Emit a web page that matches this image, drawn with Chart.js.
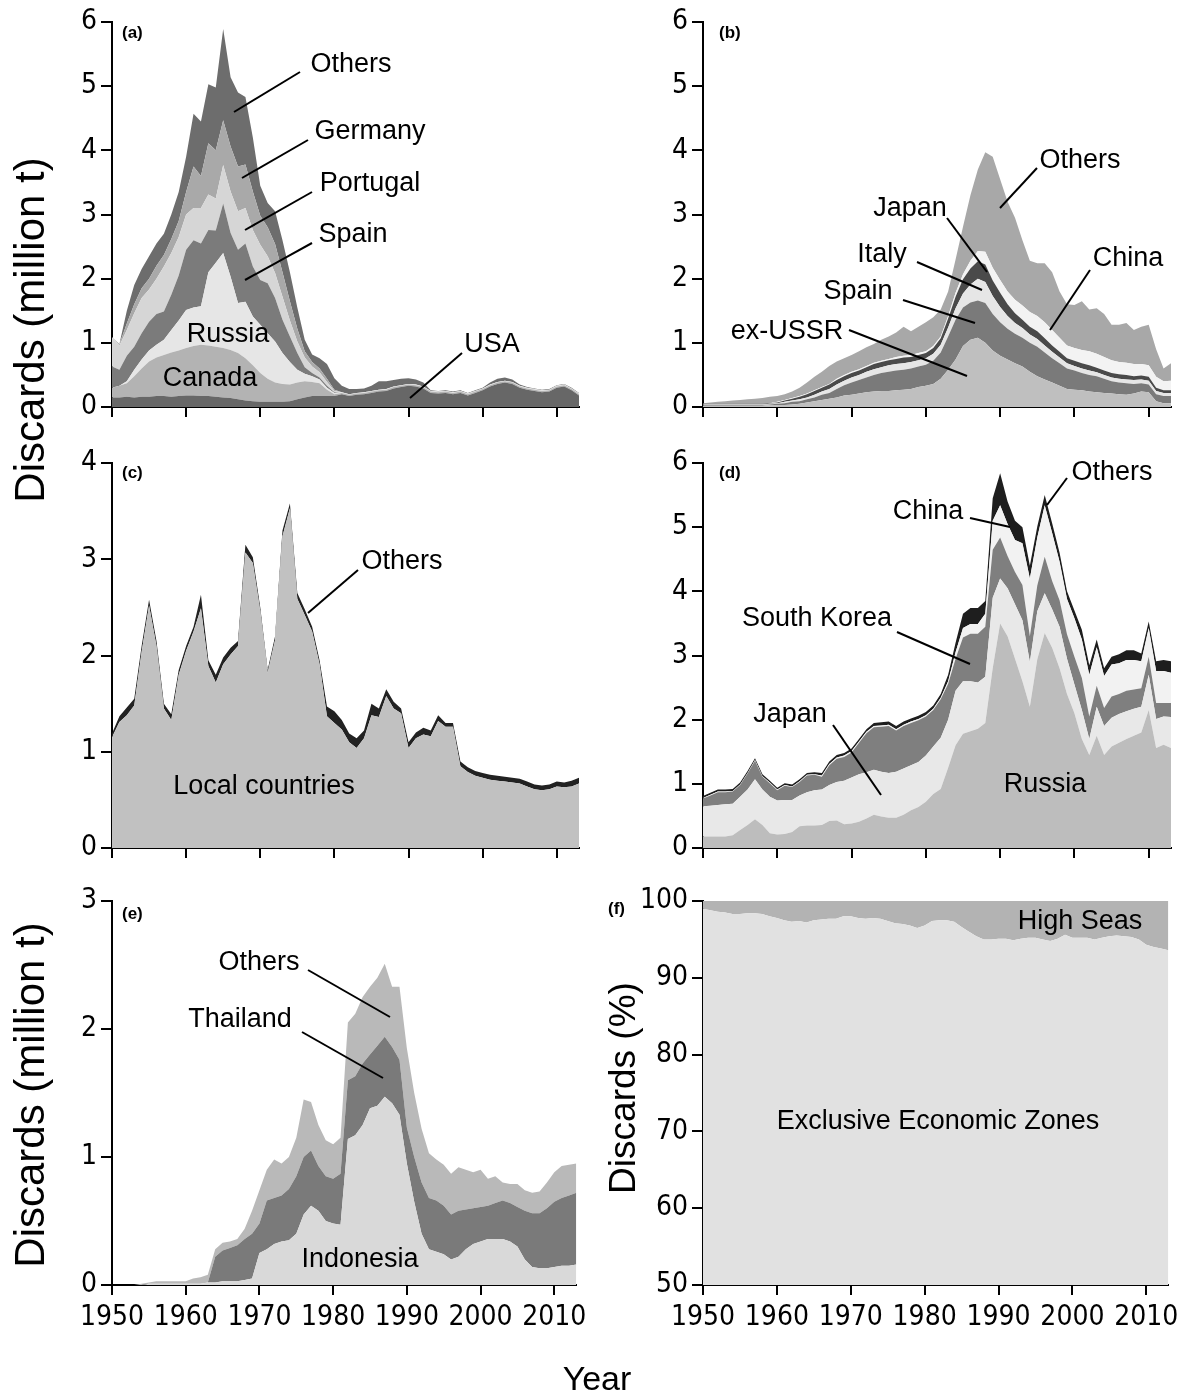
<!DOCTYPE html>
<html>
<head>
<meta charset="utf-8">
<script src="https://cdn.jsdelivr.net/npm/chart.js@4.4.1/dist/chart.umd.min.js"></script>
<style>
body { margin: 0; background: #fff; }
#page { position: relative; width: 1194px; height: 1393px; overflow: hidden; font-family: "Liberation Sans", Arial, sans-serif; color: #000; }
canvas.panel { position: absolute; }
.lbl { position: absolute; font-size: 27px; white-space: nowrap; transform: translate(-50%, -50%); line-height: 1; }
.tag { position: absolute; font-size: 17px; font-weight: bold; white-space: nowrap; transform: translateY(-50%); line-height: 1; }
.ytitle { position: absolute; font-size: 42px; white-space: nowrap; line-height: 1; transform: translate(-50%, -50%) rotate(-90deg); }
.ytitle.pct { font-size: 37px; }
.xtitle { position: absolute; font-size: 34px; white-space: nowrap; line-height: 1; transform: translate(-50%, -50%); }
#lines { position: absolute; left: 0; top: 0; }
</style>
</head>
<body>
<div id="page"></div>
<script>
var years = [1950,1951,1952,1953,1954,1955,1956,1957,1958,1959,
  1960,1961,1962,1963,1964,1965,1966,1967,1968,1969,
  1970,1971,1972,1973,1974,1975,1976,1977,1978,1979,
  1980,1981,1982,1983,1984,1985,1986,1987,1988,1989,
  1990,1991,1992,1993,1994,1995,1996,1997,1998,1999,
  2000,2001,2002,2003,2004,2005,2006,2007,2008,2009,
  2010,2011,2012,2013];

// (a) million t
var aUSA = [0.15,0.15,0.16,0.15,0.16,0.16,0.17,0.17,0.16,0.17, 0.18,0.18,0.17,0.17,0.16,0.15,0.14,0.12,0.10,0.09,
  0.08,0.08,0.08,0.08,0.09,0.12,0.15,0.17,0.17,0.17, 0.17,0.20,0.17,0.19,0.20,0.22,0.24,0.25,0.29,0.31,
  0.33,0.32,0.29,0.22,0.21,0.22,0.20,0.22,0.18,0.22, 0.26,0.32,0.36,0.38,0.36,0.30,0.27,0.25,0.23,0.24, 0.30,0.32,0.26,0.18];
var aCanada = [0.15,0.18,0.21,0.33,0.44,0.55,0.60,0.64,0.69,0.71, 0.74,0.77,0.80,0.79,0.78,0.77,0.75,0.72,0.66,0.56,
  0.45,0.36,0.30,0.28,0.26,0.26,0.25,0.22,0.20,0.10, 0.03,0.02,0.02,0.02,0.02,0.02,0.02,0.02,0.02,0.02,
  0.02,0.02,0.02,0.02,0.02,0.02,0.02,0.02,0.02,0.02, 0.02,0.02,0.02,0.02,0.02,0.02,0.02,0.02,0.02,0.02, 0.02,0.02,0.02,0.02];
var aRussia = [0.00,0.00,0.03,0.10,0.14,0.17,0.20,0.24,0.35,0.47, 0.59,0.60,0.60,1.14,1.31,1.48,1.14,0.78,0.88,0.76,
  0.75,0.71,0.64,0.48,0.35,0.20,0.12,0.09,0.06,0.03, 0.02,0.01,0.01,0.01,0.01,0.01,0.01,0.01,0.01,0.01,
  0.01,0.01,0.01,0.01,0.01,0.01,0.01,0.01,0.01,0.01, 0.01,0.01,0.01,0.01,0.01,0.01,0.01,0.01,0.01,0.01, 0.01,0.01,0.01,0.01];
var aSpain = [0.33,0.25,0.40,0.36,0.41,0.45,0.48,0.44,0.55,0.70, 0.94,1.05,0.98,0.66,0.50,0.77,0.68,0.83,0.91,0.78,
  0.70,0.78,0.68,0.52,0.40,0.26,0.10,0.05,0.03,0.03, 0.01,0,0,0,0,0,0,0,0,0,
  0,0,0,0,0,0,0,0,0,0, 0,0,0,0,0,0,0,0,0,0, 0,0,0,0];
var aPortugal = [0.46,0.38,0.40,0.52,0.55,0.50,0.55,0.70,0.65,0.60, 0.55,0.50,0.55,0.55,0.50,0.60,0.65,0.60,0.55,0.57,
  0.55,0.42,0.39,0.36,0.25,0.18,0.15,0.10,0.08,0.06, 0.02,0,0,0,0,0,0,0,0,0,
  0,0,0,0,0,0,0,0,0,0, 0,0,0,0,0,0,0,0,0,0, 0,0,0,0];
var aGermany = [0.00,0.02,0.10,0.14,0.15,0.17,0.20,0.18,0.22,0.25, 0.35,0.65,0.50,0.80,0.75,0.70,0.70,0.70,0.68,0.60,
  0.45,0.45,0.45,0.38,0.30,0.20,0.10,0.07,0.06,0.05, 0.02,0,0,0,0,0,0,0,0,0,
  0,0,0,0,0,0,0,0,0,0, 0,0,0,0,0,0,0,0,0,0, 0,0,0,0];
var aOthers = [0.00,0.00,0.20,0.30,0.30,0.35,0.35,0.33,0.38,0.45, 0.55,0.82,0.85,0.92,0.98,1.42,1.08,1.15,1.05,0.84,
  0.47,0.38,0.51,0.50,0.45,0.33,0.18,0.12,0.16,0.23, 0.18,0.10,0.08,0.06,0.06,0.08,0.13,0.12,0.10,0.10,
  0.09,0.08,0.06,0.01,0.01,0.01,0.01,0.01,0.01,0.01, 0.01,0.03,0.05,0.05,0.04,0.02,0.01,0.01,0.01,0.01, 0.01,0.01,0.01,0.01];

// (b) million t
var bExUSSR = [0.02,0.02,0.02,0.02,0.02,0.02,0.02,0.02,0.02,0.03, 0.03,0.03,0.04,0.05,0.07,0.09,0.11,0.13,0.15,0.18,
  0.19,0.21,0.23,0.24,0.25,0.25,0.26,0.27,0.28,0.31, 0.33,0.36,0.44,0.58,0.74,0.95,1.05,1.08,1.00,0.88,
  0.80,0.74,0.68,0.63,0.55,0.48,0.43,0.38,0.33,0.28, 0.27,0.26,0.24,0.23,0.22,0.21,0.20,0.19,0.21,0.24, 0.23,0.09,0.06,0.06];
var bSpain = [0.01,0.01,0.01,0.01,0.01,0.01,0.01,0.01,0.01,0.01, 0.02,0.03,0.04,0.04,0.05,0.06,0.08,0.09,0.13,0.16,
  0.19,0.21,0.23,0.26,0.28,0.30,0.31,0.31,0.32,0.32, 0.33,0.36,0.41,0.52,0.62,0.60,0.58,0.58,0.62,0.57,
  0.52,0.48,0.46,0.45,0.45,0.46,0.42,0.38,0.35,0.32, 0.30,0.27,0.26,0.25,0.22,0.19,0.18,0.18,0.15,0.13, 0.12,0.11,0.11,0.11];
var bItaly = [0.01,0.01,0.01,0.01,0.01,0.01,0.01,0.01,0.01,0.01, 0.01,0.02,0.02,0.03,0.03,0.04,0.05,0.06,0.07,0.07,
  0.08,0.08,0.09,0.09,0.09,0.10,0.10,0.10,0.10,0.10, 0.10,0.11,0.12,0.14,0.18,0.22,0.28,0.34,0.33,0.28,
  0.24,0.20,0.17,0.15,0.13,0.12,0.11,0.10,0.09,0.08, 0.07,0.07,0.07,0.06,0.06,0.06,0.06,0.06,0.06,0.06, 0.06,0.05,0.05,0.05];
var bJapan = [0.01,0.01,0.01,0.01,0.01,0.01,0.01,0.01,0.01,0.01, 0.01,0.02,0.03,0.04,0.05,0.06,0.06,0.07,0.07,0.07,
  0.07,0.07,0.07,0.08,0.08,0.08,0.08,0.09,0.08,0.08, 0.08,0.09,0.10,0.14,0.18,0.22,0.25,0.27,0.27,0.24,
  0.22,0.18,0.15,0.13,0.12,0.12,0.11,0.10,0.09,0.08, 0.08,0.08,0.08,0.07,0.07,0.07,0.07,0.07,0.06,0.06, 0.06,0.05,0.04,0.04];
var bChina = [0,0,0,0,0,0,0,0,0,0, 0.01,0.01,0.01,0.01,0.01,0.01,0.01,0.01,0.02,0.02,
  0.02,0.02,0.02,0.02,0.02,0.02,0.03,0.03,0.03,0.03, 0.03,0.03,0.03,0.04,0.06,0.08,0.12,0.16,0.20,0.20,
  0.20,0.20,0.21,0.22,0.23,0.24,0.25,0.24,0.22,0.20, 0.20,0.21,0.22,0.22,0.21,0.20,0.19,0.19,0.19,0.18, 0.18,0.17,0.14,0.15];
var bOthers = [0.01,0.02,0.03,0.04,0.05,0.06,0.07,0.08,0.09,0.10, 0.09,0.09,0.10,0.13,0.17,0.21,0.24,0.28,0.27,0.26,
  0.26,0.28,0.29,0.29,0.33,0.35,0.38,0.45,0.37,0.41, 0.45,0.45,0.42,0.38,0.52,0.74,1.02,1.27,1.55,1.73,
  1.57,1.40,1.28,1.02,0.80,0.82,0.92,0.90,0.72,0.64, 0.67,0.76,0.65,0.71,0.67,0.55,0.58,0.62,0.53,0.58, 0.63,0.43,0.20,0.27];

// (c) million t
var cLocal = [1.15,1.31,1.38,1.48,2.04,2.52,2.10,1.45,1.33,1.80, 2.05,2.25,2.49,1.89,1.72,1.91,2.01,2.10,3.07,2.96,
  2.46,1.82,2.16,3.24,3.53,2.59,2.42,2.25,1.91,1.37, 1.30,1.23,1.10,1.04,1.14,1.38,1.36,1.58,1.45,1.40,
  1.04,1.14,1.18,1.16,1.32,1.26,1.26,0.85,0.79,0.75, 0.73,0.71,0.70,0.69,0.68,0.67,0.64,0.61,0.60,0.61, 0.64,0.63,0.64,0.67];
var cOthers = [0.04,0.06,0.08,0.07,0.06,0.06,0.05,0.05,0.06,0.05, 0.05,0.05,0.14,0.06,0.08,0.07,0.07,0.05,0.08,0.06,
  0.04,0.03,0.04,0.06,0.05,0.06,0.06,0.05,0.04,0.10, 0.12,0.10,0.09,0.10,0.08,0.12,0.09,0.07,0.07,0.05,
  0.06,0.06,0.07,0.06,0.06,0.04,0.04,0.05,0.05,0.05, 0.05,0.05,0.05,0.05,0.05,0.05,0.05,0.05,0.05,0.05, 0.05,0.05,0.06,0.06];

// (d) million t
var dRussia = [0.18,0.18,0.18,0.18,0.20,0.28,0.36,0.45,0.36,0.23, 0.21,0.22,0.25,0.34,0.35,0.35,0.36,0.42,0.43,0.37,
  0.38,0.41,0.46,0.52,0.49,0.47,0.47,0.52,0.59,0.64, 0.72,0.84,0.92,1.25,1.60,1.78,1.82,1.86,1.95,2.80,
  3.50,3.30,2.95,2.60,2.20,2.94,3.35,3.12,2.80,2.40, 2.10,1.70,1.45,1.75,1.45,1.58,1.64,1.70,1.75,1.80, 2.15,1.56,1.61,1.56];
var dJapan = [0.47,0.48,0.49,0.50,0.49,0.52,0.55,0.62,0.55,0.57, 0.53,0.53,0.50,0.48,0.52,0.55,0.55,0.56,0.60,0.68,
  0.72,0.74,0.72,0.70,0.70,0.70,0.72,0.72,0.70,0.70, 0.72,0.74,0.80,0.75,0.85,0.82,0.78,0.72,0.72,1.10,
  0.70,0.75,0.85,0.95,0.70,0.75,0.62,0.60,0.65,0.55, 0.45,0.45,0.25,0.45,0.45,0.45,0.45,0.43,0.42,0.40, 0.55,0.45,0.44,0.48];
var dSouthKorea = [0.12,0.16,0.20,0.19,0.19,0.18,0.25,0.29,0.20,0.21, 0.16,0.22,0.20,0.21,0.26,0.24,0.20,0.31,0.36,0.37,
  0.39,0.49,0.61,0.66,0.70,0.73,0.64,0.66,0.66,0.65, 0.61,0.57,0.60,0.56,0.50,0.68,0.74,0.76,0.78,0.75,
  0.64,0.50,0.50,0.55,0.40,0.40,0.57,0.44,0.41,0.38, 0.43,0.50,0.35,0.33,0.28,0.33,0.31,0.32,0.30,0.29, 0.28,0.25,0.21,0.22];
var dChina = [0.01,0.01,0.01,0.01,0.01,0.01,0.01,0.01,0.01,0.01, 0.01,0.01,0.01,0.01,0.01,0.01,0.02,0.02,0.02,0.02,
  0.02,0.02,0.02,0.02,0.02,0.02,0.02,0.02,0.02,0.02, 0.02,0.02,0.02,0.04,0.10,0.15,0.15,0.15,0.20,0.45,
  0.50,0.50,0.50,0.65,0.90,0.75,0.80,0.75,0.60,0.55, 0.60,0.60,0.65,0.60,0.50,0.50,0.48,0.48,0.46,0.42, 0.45,0.50,0.50,0.47];
var dOthers = [0.03,0.03,0.03,0.03,0.03,0.03,0.03,0.03,0.03,0.03, 0.03,0.03,0.03,0.03,0.03,0.03,0.04,0.04,0.04,0.04,
  0.04,0.04,0.04,0.05,0.05,0.05,0.05,0.05,0.05,0.05, 0.05,0.05,0.06,0.10,0.15,0.22,0.25,0.25,0.20,0.35,
  0.50,0.35,0.30,0.25,0.20,0.17,0.16,0.15,0.14,0.12, 0.12,0.15,0.15,0.12,0.12,0.12,0.14,0.15,0.15,0.12, 0.10,0.15,0.17,0.18];

// (e) million t
var eIndonesia = [0,0,0,0,0,0.01,0.01,0.01,0.01,0.01, 0.01,0.01,0.01,0.02,0.02,0.03,0.03,0.03,0.04,0.05,
  0.25,0.28,0.32,0.34,0.35,0.40,0.55,0.62,0.58,0.50, 0.48,0.47,1.14,1.17,1.25,1.38,1.40,1.47,1.42,1.33,
  0.95,0.65,0.40,0.28,0.26,0.24,0.20,0.22,0.28,0.32, 0.34,0.36,0.36,0.36,0.34,0.30,0.20,0.14,0.13,0.13, 0.14,0.15,0.15,0.16];
var eThailand = [0,0,0,0,0,0,0,0,0,0, 0,0,0,0,0.20,0.24,0.26,0.28,0.32,0.35,
  0.23,0.38,0.36,0.36,0.40,0.45,0.45,0.43,0.35,0.35, 0.35,0.40,0.46,0.46,0.48,0.42,0.47,0.47,0.44,0.43,
  0.28,0.35,0.40,0.40,0.40,0.38,0.35,0.36,0.31,0.28, 0.27,0.26,0.28,0.30,0.30,0.31,0.38,0.42,0.43,0.47, 0.51,0.53,0.55,0.56];
var eOthers = [0,0,0,0,0.01,0.01,0.02,0.02,0.02,0.02, 0.02,0.04,0.05,0.06,0.06,0.06,0.05,0.05,0.08,0.18,
  0.26,0.24,0.30,0.25,0.25,0.30,0.45,0.38,0.32,0.28, 0.27,0.28,0.45,0.49,0.52,0.53,0.53,0.57,0.47,0.57,
  0.62,0.50,0.42,0.35,0.32,0.32,0.32,0.34,0.31,0.28, 0.29,0.21,0.21,0.14,0.15,0.18,0.16,0.16,0.17,0.20, 0.23,0.25,0.24,0.23];

// (f) percent
var fEEZ = [99.0,98.8,98.6,98.5,98.3,98.3,98.4,98.4,98.3,98.0, 97.8,97.5,97.3,97.4,97.2,97.5,97.6,97.7,97.7,98.0,
  98.0,97.8,97.7,97.8,97.7,97.4,97.1,97.0,96.8,96.5, 96.8,97.4,97.5,97.5,97.3,96.6,96.0,95.4,95.0,95.0,
  95.1,95.1,94.9,95.1,95.2,95.2,95.0,94.8,95.1,95.6, 95.2,95.2,95.2,95.0,95.2,95.4,95.5,95.4,95.3,95.0, 94.3,94.0,93.8,93.6];
var fHighSeas = [1.0,1.2,1.4,1.5,1.7,1.7,1.6,1.6,1.7,2.0, 2.2,2.5,2.7,2.6,2.8,2.5,2.4,2.3,2.3,2.0,
  2.0,2.2,2.3,2.2,2.3,2.6,2.9,3.0,3.2,3.5, 3.2,2.6,2.5,2.5,2.7,3.4,4.0,4.6,5.0,5.0,
  4.9,4.9,5.1,4.9,4.8,4.8,5.0,5.2,4.9,4.4, 4.8,4.8,4.8,5.0,4.8,4.6,4.5,4.6,4.7,5.0, 5.7,6.0,6.2,6.4];

var xTicks = [1950,1960,1970,1980,1990,2000,2010];
var tickFont = { family: "'DejaVu Sans Condensed', 'Liberation Sans', sans-serif", size: 28 };

var page = document.getElementById('page');
var padL = 72, padT = 22, padR = 14, padB = 58;

function makePanel(box, yMin, yMax, yStep, series, showYears) {
  var canvas = document.createElement('canvas');
  canvas.className = 'panel';
  canvas.width = (box.x1 - box.x0) + padL + padR;
  canvas.height = (box.y1 - box.y0) + padT + padB;
  canvas.style.left = (box.x0 - padL) + 'px';
  canvas.style.top = (box.y0 - padT) + 'px';
  page.appendChild(canvas);

  var datasets = series.map(function(s, i) {
    return {
      label: s.name,
      data: s.data,
      backgroundColor: s.color,
      borderWidth: 0,
      pointRadius: 0,
      tension: 0,
      fill: i === 0 ? 'origin' : '-1'
    };
  });

  return new Chart(canvas, {
    type: 'line',
    data: { labels: years, datasets: datasets },
    options: {
      responsive: false,
      animation: false,
      layout: { padding: { top: padT, right: padR, left: 0, bottom: 0 } },
      plugins: { legend: { display: false }, tooltip: { enabled: false } },
      scales: {
        x: {
          type: 'linear', min: 1950, max: 2013,
          afterBuildTicks: function(scale) { scale.ticks = xTicks.map(function(v) { return { value: v }; }); },
          afterFit: function(scale) { scale.height = padB; },
          ticks: { display: showYears, autoSkip: false, font: tickFont, color: '#000', padding: 6, maxRotation: 0,
                   callback: function(v) { return String(v); } },
          grid: { drawOnChartArea: false, drawTicks: true, tickLength: 10, color: '#000', lineWidth: 2 },
          border: { display: true, color: '#000', width: 2 }
        },
        y: {
          stacked: true, min: yMin, max: yMax,
          afterFit: function(scale) { scale.width = padL; },
          ticks: { stepSize: yStep, autoSkip: false, font: tickFont, color: '#000', padding: 4 },
          grid: { drawOnChartArea: false, drawTicks: true, tickLength: 11, color: '#000', lineWidth: 2 },
          border: { display: true, color: '#000', width: 2 }
        }
      }
    }
  });
}

makePanel({ x0: 112, x1: 579, y0: 22, y1: 407 }, 0, 6, 1, [
  { name: 'USA', data: aUSA, color: '#676767' },
  { name: 'Canada', data: aCanada, color: '#b3b3b3' },
  { name: 'Russia', data: aRussia, color: '#e6e6e6' },
  { name: 'Spain', data: aSpain, color: '#7b7b7b' },
  { name: 'Portugal', data: aPortugal, color: '#d6d6d6' },
  { name: 'Germany', data: aGermany, color: '#a9a9a9' },
  { name: 'Others', data: aOthers, color: '#6d6d6d' }
], false);

makePanel({ x0: 703, x1: 1171, y0: 22, y1: 407 }, 0, 6, 1, [
  { name: 'ex-USSR', data: bExUSSR, color: '#bfbfbf' },
  { name: 'Spain', data: bSpain, color: '#7a7a7a' },
  { name: 'Italy', data: bItaly, color: '#e6e6e6' },
  { name: 'Japan', data: bJapan, color: '#4a4a4a' },
  { name: 'China', data: bChina, color: '#f3f3f3' },
  { name: 'Others', data: bOthers, color: '#a8a8a8' }
], false);

makePanel({ x0: 112, x1: 579, y0: 463, y1: 848 }, 0, 4, 1, [
  { name: 'Local countries', data: cLocal, color: '#c1c1c1' },
  { name: 'Others', data: cOthers, color: '#222222' }
], false);

makePanel({ x0: 703, x1: 1171, y0: 463, y1: 848 }, 0, 6, 1, [
  { name: 'Russia', data: dRussia, color: '#bdbdbd' },
  { name: 'Japan', data: dJapan, color: '#e8e8e8' },
  { name: 'South Korea', data: dSouthKorea, color: '#7f7f7f' },
  { name: 'China', data: dChina, color: '#f2f2f2' },
  { name: 'Others', data: dOthers, color: '#1e1e1e' }
], false);

makePanel({ x0: 112, x1: 579, y0: 901, y1: 1285 }, 0, 3, 1, [
  { name: 'Indonesia', data: eIndonesia, color: '#d9d9d9' },
  { name: 'Thailand', data: eThailand, color: '#7a7a7a' },
  { name: 'Others', data: eOthers, color: '#b9b9b9' }
], true);

makePanel({ x0: 703, x1: 1171, y0: 901, y1: 1285 }, 50, 100, 10, [
  { name: 'Exclusive Economic Zones', data: fEEZ, color: '#e1e1e1' },
  { name: 'High Seas', data: fHighSeas, color: '#b3b3b3' }
], true);

// labels and leader lines
var labels = [
  ['Others', 351, 63], ['Germany', 370, 130], ['Portugal', 370, 182], ['Spain', 353, 233],
  ['Russia', 228, 333], ['Canada', 210, 377], ['USA', 492, 343],
  ['Others', 1080, 159], ['Japan', 910, 207], ['Italy', 882, 253], ['Spain', 858, 290],
  ['ex-USSR', 787, 330], ['China', 1128, 257],
  ['Others', 402, 560], ['Local countries', 264, 785],
  ['Others', 1112, 471], ['China', 928, 510], ['South Korea', 817, 617], ['Japan', 790, 713], ['Russia', 1045, 783],
  ['Others', 259, 961], ['Thailand', 240, 1018], ['Indonesia', 360, 1258],
  ['High Seas', 1080, 920], ['Exclusive Economic Zones', 938, 1120]
];
var leaders = [
  [300, 72, 234, 112], [308, 140, 242, 178], [312, 192, 245, 230], [312, 243, 245, 280], [462, 353, 410, 398],
  [1037, 168, 1000, 208], [947, 218, 987, 272], [917, 262, 982, 290], [903, 300, 975, 323], [849, 330, 967, 376], [1090, 270, 1050, 330],
  [358, 570, 308, 613],
  [1067, 478, 1047, 505], [970, 518, 1010, 527], [897, 632, 970, 664], [833, 725, 881, 795],
  [308, 970, 390, 1017], [302, 1032, 383, 1078]
];
var tags = [['(a)', 122, 32], ['(b)', 719, 32], ['(c)', 122, 472], ['(d)', 719, 472], ['(e)', 122, 913], ['(f)', 608, 908]];

var svgNS = 'http://www.w3.org/2000/svg';
var svg = document.createElementNS(svgNS, 'svg');
svg.setAttribute('id', 'lines');
svg.setAttribute('width', 1194);
svg.setAttribute('height', 1393);
leaders.forEach(function(l) {
  var ln = document.createElementNS(svgNS, 'line');
  ln.setAttribute('x1', l[0]); ln.setAttribute('y1', l[1]);
  ln.setAttribute('x2', l[2]); ln.setAttribute('y2', l[3]);
  ln.setAttribute('stroke', '#000'); ln.setAttribute('stroke-width', 2);
  svg.appendChild(ln);
});
page.appendChild(svg);

labels.forEach(function(t) {
  var d = document.createElement('div');
  d.className = 'lbl';
  d.textContent = t[0];
  d.style.left = t[1] + 'px';
  d.style.top = t[2] + 'px';
  page.appendChild(d);
});
tags.forEach(function(t) {
  var d = document.createElement('div');
  d.className = 'tag';
  d.textContent = t[0];
  d.style.left = t[1] + 'px';
  d.style.top = t[2] + 'px';
  page.appendChild(d);
});

var titles = [
  ['ytitle', 'Discards (million t)', 30, 330],
  ['ytitle', 'Discards (million t)', 30, 1095],
  ['ytitle pct', 'Discards (%)', 622, 1088],
  ['xtitle', 'Year', 597, 1378]
];
titles.forEach(function(t) {
  var d = document.createElement('div');
  d.className = t[0];
  d.textContent = t[1];
  d.style.left = t[2] + 'px';
  d.style.top = t[3] + 'px';
  page.appendChild(d);
});
</script>
</body>
</html>
